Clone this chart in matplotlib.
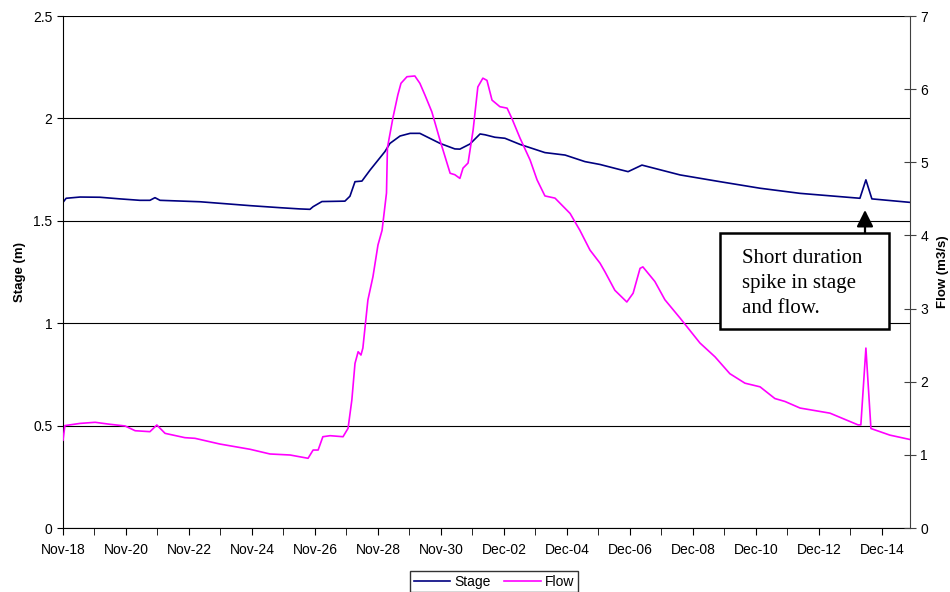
#!/usr/bin/env python3
"""
Stage and flow record, Nov-18 to Dec-14, with a twin flow axis.
"""
import numpy as np
import matplotlib

matplotlib.use("Agg")
import matplotlib.pyplot as plt
import matplotlib.dates as mdates
from matplotlib.patches import Rectangle
from matplotlib.ticker import FormatStrFormatter, MultipleLocator

plt.rcParams["font.family"] = ["Liberation Sans", "DejaVu Sans"]

START = np.datetime64("2007-11-18T00:00")

# days since Nov-18 00:00 and stage (m)
stage_days = [0.0, 0.10, 0.54, 1.17, 1.81, 2.44, 2.76, 2.92, 3.08, 4.35, 5.94, 6.89,
              7.52, 7.84, 7.94, 8.22, 8.95, 9.11, 9.27, 9.49, 9.75, 10.22, 10.38,
              10.70, 11.02, 11.33, 11.97, 12.44, 12.60, 12.92, 13.24, 13.40, 13.71,
              14.03, 14.51, 15.30, 15.94, 16.57, 17.05, 17.68, 17.94, 18.38, 19.59,
              20.86, 22.13, 23.40, 25.30, 25.49, 25.68, 26.89]
stage_m = [1.59, 1.61, 1.616, 1.615, 1.607, 1.600, 1.600, 1.613, 1.600, 1.593, 1.574,
           1.564, 1.558, 1.556, 1.569, 1.594, 1.596, 1.62, 1.691, 1.694, 1.748, 1.838,
           1.878, 1.914, 1.927, 1.927, 1.878, 1.851, 1.850, 1.875, 1.924, 1.920, 1.908,
           1.903, 1.873, 1.833, 1.821, 1.789, 1.775, 1.750, 1.740, 1.772, 1.724, 1.691,
           1.659, 1.634, 1.610, 1.700, 1.607, 1.590]

# days since Nov-18 00:00 and flow (m3/s)
flow_days = [0.0, 0.06, 0.54, 1.02, 1.49, 1.97, 2.29, 2.76, 2.98, 3.24, 3.87, 4.19,
             4.98, 5.94, 6.57, 7.21, 7.78, 7.94, 8.10, 8.25, 8.48, 8.89, 9.05, 9.17,
             9.27, 9.37, 9.46, 9.52, 9.68, 9.84, 10.0, 10.13, 10.27, 10.30, 10.48,
             10.63, 10.73, 10.92, 11.17, 11.33, 11.49, 11.71, 11.97, 12.29, 12.44,
             12.60, 12.70, 12.86, 13.02, 13.17, 13.33, 13.46, 13.62, 13.87, 14.10,
             14.25, 14.51, 14.83, 15.05, 15.30, 15.62, 16.10, 16.41, 16.73, 17.05,
             17.21, 17.52, 17.90, 18.10, 18.32, 18.41, 18.79, 19.11, 19.59, 20.22,
             20.70, 21.17, 21.65, 22.13, 22.60, 22.92, 23.40, 24.35, 25.24, 25.33,
             25.49, 25.65, 26.25, 26.89]
flow_m3s = [1.20, 1.40, 1.43, 1.445, 1.418, 1.395, 1.33, 1.317, 1.408, 1.294, 1.235,
            1.226, 1.148, 1.076, 1.012, 0.998, 0.953, 1.066, 1.066, 1.248, 1.262,
            1.248, 1.363, 1.75, 2.25, 2.41, 2.365, 2.46, 3.117, 3.436, 3.87, 4.07,
            4.58, 5.20, 5.62, 5.92, 6.08, 6.17, 6.18, 6.08, 5.92, 5.69, 5.30, 4.85,
            4.83, 4.78, 4.92, 4.99, 5.44, 6.03, 6.15, 6.12, 5.85, 5.76, 5.74, 5.60,
            5.33, 5.03, 4.76, 4.54, 4.51, 4.30, 4.07, 3.80, 3.62, 3.50, 3.25, 3.09,
            3.21, 3.55, 3.57, 3.37, 3.12, 2.87, 2.53, 2.34, 2.11, 1.98, 1.93, 1.77,
            1.73, 1.64, 1.57, 1.41, 1.41, 2.46, 1.36, 1.27, 1.21]

END_DAY = 26.89
NOTE_LINES = ["Short duration", "spike in stage", "and flow."]

W, H = 950, 592


def to_dates(days):
    minutes = np.round(np.asarray(days) * 24 * 60).astype("timedelta64[m]")
    return START + minutes


def fx(px):
    return px / W


def fy(py):
    return 1 - py / H


fig = plt.figure(figsize=(9.5, 5.92), dpi=100)
ax = fig.add_axes([fx(63), fy(528), (910 - 63) / W, (528 - 16) / H])
ax2 = ax.twinx()

l1, = ax.plot(to_dates(stage_days), stage_m, color="#000080", lw=1.2, label="Stage")
l2, = ax2.plot(to_dates(flow_days), flow_m3s, color="#FF00FF", lw=1.2, label="Flow")

ax.set_xlim(START, to_dates([END_DAY])[0])
ax.set_ylim(0, 2.5)
ax2.set_ylim(0, 7)

ax.yaxis.set_major_locator(MultipleLocator(0.5))
ax.yaxis.set_major_formatter(FormatStrFormatter("%g"))
ax2.yaxis.set_major_locator(MultipleLocator(1))

ax.xaxis.set_major_locator(mdates.DayLocator(bymonthday=range(2, 32, 2)))
ax.xaxis.set_minor_locator(mdates.DayLocator())
ax.xaxis.set_major_formatter(mdates.DateFormatter("%b-%d"))

ax.grid(axis="y", color="black", lw=0.8)
ax.set_axisbelow(True)

for a in (ax, ax2):
    a.spines["top"].set_visible(False)
ax2.spines["left"].set_visible(False)
ax2.spines["bottom"].set_visible(False)
ax.spines["right"].set_visible(False)
ax2.spines["right"].set_color("#404040")

ax.tick_params(axis="x", which="both", direction="out", length=5, labelsize=10, pad=6)
ax.tick_params(axis="y", direction="out", length=4, labelsize=10)
ax2.tick_params(axis="y", direction="inout", length=8, labelsize=10, color="#404040")

ax.set_ylabel("Stage (m)", fontsize=9.5, fontweight="bold", labelpad=5)
ax2.set_ylabel("Flow (m3/s)", fontsize=9.5, fontweight="bold", labelpad=6)

# note box with arrow pointing up at the spike
fig.patches.append(Rectangle((fx(720), fy(329)), (889 - 720) / W, (329 - 233) / H,
                             transform=fig.transFigure, facecolor="white",
                             edgecolor="black", lw=1.8, zorder=5))
for i, line in enumerate(NOTE_LINES):
    fig.text(fx(742), fy(263 + 25 * i), line, family=["Liberation Serif", "DejaVu Serif"],
             fontsize=15, va="baseline", ha="left", zorder=6)
fig.add_artist(matplotlib.patches.FancyArrowPatch(
    (fx(865), fy(233)), (fx(865), fy(210)), transform=fig.transFigure,
    arrowstyle="-|>,head_width=0.25,head_length=0.5", mutation_scale=20,
    color="black", lw=1.6, shrinkA=0, shrinkB=0, zorder=6))

leg = fig.legend(handles=[l1, l2], loc="lower center", bbox_to_anchor=(0.52, -0.012),
                 ncol=2, fontsize=10, frameon=True, fancybox=False, edgecolor="black",
                 handlelength=2.6, handletextpad=0.3, columnspacing=1.0,
                 borderpad=0.25)
leg.get_frame().set_linewidth(1.0)

fig.savefig("out.png", dpi=100)
plt.close(fig)
